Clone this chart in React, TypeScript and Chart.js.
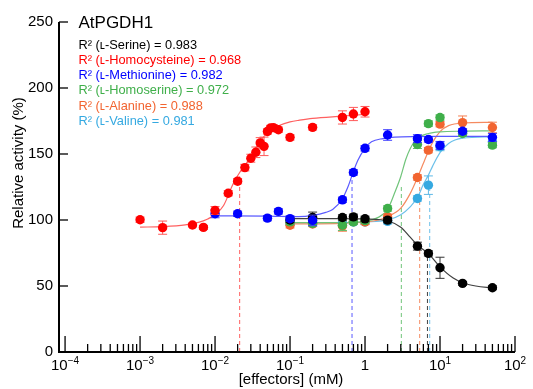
import React, { useEffect, useRef } from 'react';
import { Chart, registerables } from 'chart.js';

Chart.register(...registerables);

const FONT = '"Liberation Sans", Arial, Helvetica, sans-serif';

// ---------- axes ----------
const X_MIN = 8.3e-5;
const X_MAX = 100;
const Y_MIN = 0;
const Y_MAX = 250;
const Y_STEP = 50;
const X_DECADES = [1e-4, 1e-3, 1e-2, 1e-1, 1, 10, 100];
const X_LABEL_BASE = ['10', '10', '10', '10', '1', '10', '10'];
const X_LABEL_EXP = ['\u22124', '\u22123', '\u22122', '\u22121', '', '1', '2'];
const X_MINOR_MULTS = [2, 3, 4, 5, 6, 7, 8, 9];

const TITLE = 'AtPGDH1';
const X_TITLE = '[effectors] (mM)';
const Y_TITLE = 'Relative activity (%)';

// ---------- series names / legend ----------
const SERIES_NAMES = ['L-Serine', 'L-Homocysteine', 'L-Methionine', 'L-Homoserine', 'L-Alanine', 'L-Valine'];
const LEGEND_LABELS = [
  'R\u00B2 (\u029F-Serine) = 0.983',
  'R\u00B2 (\u029F-Homocysteine) = 0.968',
  'R\u00B2 (\u029F-Methionine) = 0.982',
  'R\u00B2 (\u029F-Homoserine) = 0.972',
  'R\u00B2 (\u029F-Alanine) = 0.988',
  'R\u00B2 (\u029F-Valine) = 0.981',
];
const COLORS = ['#000000', '#FF0000', '#0000FF', '#3FAF4A', '#F26430', '#35A9E1'];
const CURVE_COLORS = ['#404040', '#FF6060', '#5A5AFF', '#70C47A', '#F58A60', '#6CC0EA'];
const ERR_COLORS = ['#333333', '#FF5A5A', '#3A3AFF', '#5CBC66', '#F47E50', '#5CB8E6'];

// ---------- measured points ----------
const serineX = [0.1, 0.2, 0.5, 0.7, 1, 2, 5, 7, 10, 20, 50];
const serineY = [100, 102, 101.9, 102.4, 100.9, 99.9, 80.2, 74.7, 63.8, 52, 48.7];
const serineErr = [2, 4, 2, 2, 2, 2, 3, 2, 8, 1.5, 1.5];

const hcyX = [0.001, 0.002, 0.005, 0.007, 0.01, 0.015, 0.02, 0.025, 0.03, 0.035, 0.04, 0.045, 0.05, 0.055, 0.06, 0.07, 0.1, 0.2, 0.5, 0.7, 1];
const hcyY = [100.2, 94.2, 96.2, 94.4, 107.2, 120.3, 129.4, 139.7, 146.8, 151.3, 158.4, 155.8, 167.1, 169.7, 170, 168.4, 162.6, 170.2, 177.7, 180.3, 182];
const hcyErr = [2, 5, 1.5, 1.5, 3, 2, 2, 2.5, 3, 4, 4, 7, 2, 2, 2, 2, 2, 2, 5, 5, 4];

const metX = [0.01, 0.02, 0.05, 0.07, 0.1, 0.2, 0.5, 0.7, 1, 2, 5, 7, 10, 20, 50];
const metY = [104.7, 104.7, 101.4, 106.5, 101, 99.7, 115.3, 136, 154.3, 164.4, 161.6, 161, 156.5, 167.2, 162.6];
const metErr = [3, 2, 2, 2, 2, 4, 2, 2, 2, 4, 3, 2, 3, 2, 3];

const hseX = [0.1, 0.2, 0.5, 0.7, 1, 2, 5, 7, 10, 20, 50];
const hseY = [98.6, 97.4, 96.1, 98.6, 99.5, 108.7, 157.2, 173, 177.6, 165.5, 156.7];
const hseErr = [2, 2, 4, 2, 2, 2, 3, 2, 2, 2, 2];

const alaX = [0.1, 0.2, 0.5, 0.7, 1, 2, 5, 7, 10, 20, 50];
const alaY = [96, 97, 95.5, 98.9, 98.6, 102.4, 132.2, 152.9, 172.6, 173.8, 170.1];
const alaErr = [2, 2, 4, 2, 2, 2, 2, 2, 2, 5, 4];

const valX = [0.1, 0.2, 0.5, 0.7, 1, 2, 5, 7, 10, 20, 50];
const valY = [98, 97.5, 98, 98.5, 98.5, 99, 116.3, 126.4, 155.5, 166, 159.2];
const valErr = [2, 2, 2, 2, 2, 2, 2, 7, 3, 2, 4];

// ---------- fitted curves ----------
const serineFitX = [0.1, 0.5, 1, 1.5, 2, 3, 4, 5, 7, 10, 15, 20, 30, 50];
const serineFitY = [101, 101, 100.8, 100.3, 99.4, 94.5, 87, 81, 74.5, 64.5, 56, 52.5, 50, 48.5];

const hcyFitX = [0.001, 0.002, 0.004, 0.006, 0.008, 0.01, 0.013, 0.0175, 0.0213, 0.025, 0.03, 0.04, 0.054, 0.073, 0.1, 0.134, 0.2, 0.5, 1];
const hcyFitY = [94.6, 95, 96.3, 98.2, 100.8, 104, 111, 127.7, 136, 141, 148, 160, 167.5, 171.8, 174.3, 175.6, 177, 178.7, 180];

const metFitX = [0.01, 0.05, 0.13, 0.2, 0.3, 0.37, 0.49, 0.6, 0.69, 0.8, 1.01, 1.22, 1.74, 2.5, 5, 10, 50];
const metFitY = [103.2, 103, 102.6, 103.5, 105.8, 108, 115.3, 126, 135.7, 145, 154.6, 159.2, 161.7, 162.8, 163.2, 163.3, 163.3];

const hseFitX = [0.1, 0.5, 1, 1.5, 2, 2.5, 3, 3.5, 4, 5, 7, 10, 20, 50];
const hseFitY = [98, 98, 99, 102, 108, 121, 133, 146, 154, 162, 165.5, 166.8, 167.3, 167.5];

const alaFitX = [0.1, 0.5, 1, 1.5, 2, 3, 4, 5, 6, 7, 8, 10, 13, 20, 50];
const alaFitY = [97, 97.5, 98.5, 100, 102.5, 109, 120, 132, 143, 152, 159, 167, 171.5, 173.5, 174];

const valFitX = [0.1, 0.5, 1, 2, 3, 4, 5, 6, 7, 8, 10, 13, 20, 50];
const valFitY = [98, 98, 98.5, 100, 104, 110, 117, 127, 134, 141, 151, 158, 162, 163];

// ---------- EC50 / IC50 drop lines ----------
const EC50_X = [6.8, 0.0213, 0.671, 3.05, 5.36, 7.29];
const EC50_TOP = [73, 133, 132.5, 125, 129, 123];

const POINTS_X = [serineX, hcyX, metX, hseX, alaX, valX];
const POINTS_Y = [serineY, hcyY, metY, hseY, alaY, valY];
const POINTS_ERR = [serineErr, hcyErr, metErr, hseErr, alaErr, valErr];
const FITS_X = [serineFitX, hcyFitX, metFitX, hseFitX, alaFitX, valFitX];
const FITS_Y = [serineFitY, hcyFitY, metFitY, hseFitY, alaFitY, valFitY];
// drawing order for points (lower = on top)
const POINT_ORDER = [7, 5, 6, 8, 9, 10];

const zip = (xs: number[], ys: number[]) => xs.map((x, i) => ({ x, y: ys[i] }));

const errorBarPlugin = {
  id: 'errorBars',
  beforeDatasetDraw(chart: any, args: any) {
    const ds = chart.data.datasets[args.index];
    const errs = ds.errors as number[] | undefined;
    if (!errs) return;
    const ys = chart.scales.y;
    const ctx = chart.ctx;
    ctx.save();
    ctx.strokeStyle = ds.errorColor;
    ctx.lineWidth = 1;
    args.meta.data.forEach((el: any, i: number) => {
      const v = ds.data[i].y;
      const e = errs[i];
      if (!e) return;
      const x = el.x;
      const t = ys.getPixelForValue(v + e);
      const b = ys.getPixelForValue(v - e);
      ctx.beginPath();
      ctx.moveTo(x, t); ctx.lineTo(x, b);
      ctx.moveTo(x - 4.5, t); ctx.lineTo(x + 4.5, t);
      ctx.moveTo(x - 4.5, b); ctx.lineTo(x + 4.5, b);
      ctx.stroke();
    });
    ctx.restore();
  },
};

const decoPlugin = {
  id: 'deco',
  afterDatasetsDraw(chart: any) {
    const { ctx, chartArea, scales } = chart;
    const xs = scales.x;
    const ys = scales.y;
    const y0 = chartArea.bottom;
    const line = (a: number, b: number, c: number, d: number) => {
      ctx.beginPath(); ctx.moveTo(a, b); ctx.lineTo(c, d); ctx.stroke();
    };
    ctx.save();
    ctx.strokeStyle = '#000';
    ctx.lineWidth = 1.3;
    X_DECADES.forEach((base, i) => {
      const px = xs.getPixelForValue(base);
      line(px, y0, px, y0 - 16);
      if (i < X_DECADES.length - 1) {
        X_MINOR_MULTS.forEach((m) => {
          const p = xs.getPixelForValue(m * base);
          line(p, y0, p, y0 - 8);
        });
      }
    });
    for (let v = Y_MIN; v <= Y_MAX; v += Y_STEP) {
      const py = ys.getPixelForValue(v);
      line(chartArea.left, py, chartArea.left + 9, py);
    }
    ctx.lineWidth = 2;
    line(chartArea.left, chartArea.top, chartArea.left, y0);
    line(chartArea.left - 1, y0, chartArea.right, y0);

    // x tick labels with superscripts
    ctx.fillStyle = '#000';
    ctx.textBaseline = 'alphabetic';
    ctx.textAlign = 'left';
    X_DECADES.forEach((v, i) => {
      const px = xs.getPixelForValue(v);
      const base = X_LABEL_BASE[i];
      const exp = X_LABEL_EXP[i];
      ctx.font = `15px ${FONT}`;
      const wb = ctx.measureText(base).width;
      ctx.font = `10px ${FONT}`;
      const we = exp ? ctx.measureText(exp).width : 0;
      const start = px - (wb + we) / 2;
      ctx.font = `15px ${FONT}`;
      ctx.fillText(base, start, 370);
      if (exp) {
        ctx.font = `10px ${FONT}`;
        ctx.fillText(exp, start + wb, 363.5);
      }
    });

    // axis titles
    ctx.font = `15px ${FONT}`;
    ctx.textAlign = 'center';
    ctx.textBaseline = 'middle';
    ctx.fillText(X_TITLE, 291, 380);
    ctx.save();
    ctx.translate(18.5, 163);
    ctx.rotate(-Math.PI / 2);
    ctx.fillText(Y_TITLE, 0, 0);
    ctx.restore();

    // chart title and legend
    ctx.textAlign = 'left';
    ctx.textBaseline = 'alphabetic';
    ctx.font = `17px ${FONT}`;
    ctx.fillText(TITLE, 78.5, 27.5);
    ctx.font = `12.8px ${FONT}`;
    LEGEND_LABELS.forEach((t, i) => {
      ctx.fillStyle = COLORS[i];
      ctx.fillText(t, 78.5, 48.5 + i * 15.3);
    });
    ctx.restore();
  },
};

export default function App() {
  const ref = useRef<HTMLCanvasElement | null>(null);

  useEffect(() => {
    if (!ref.current) return;
    const datasets: any[] = [];
    // drop lines
    EC50_X.forEach((x, i) => {
      datasets.push({
        label: SERIES_NAMES[i] + ' EC50',
        data: [{ x, y: 0 }, { x, y: EC50_TOP[i] }],
        borderColor: CURVE_COLORS[i],
        borderWidth: 1,
        borderDash: [4, 3],
        pointRadius: 0,
        showLine: true,
        order: 100 + i,
      });
    });
    // fitted curves
    FITS_X.forEach((fx, i) => {
      datasets.push({
        label: SERIES_NAMES[i] + ' fit',
        data: zip(fx, FITS_Y[i]),
        borderColor: CURVE_COLORS[i],
        borderWidth: 1.2,
        pointRadius: 0,
        showLine: true,
        cubicInterpolationMode: 'monotone',
        order: 50 + i,
      });
    });
    // points
    POINTS_X.forEach((px, i) => {
      datasets.push({
        label: SERIES_NAMES[i],
        data: zip(px, POINTS_Y[i]),
        showLine: false,
        pointRadius: 4.7,
        pointBorderWidth: 0,
        pointBackgroundColor: COLORS[i],
        pointBorderColor: COLORS[i],
        borderColor: COLORS[i],
        errors: POINTS_ERR[i],
        errorColor: ERR_COLORS[i],
        order: POINT_ORDER[i],
      });
    });

    const chart = new Chart(ref.current, {
      type: 'line',
      data: { datasets },
      options: {
        animation: false,
        responsive: true,
        maintainAspectRatio: false,
        layout: { padding: { top: 22, right: 18, left: 0, bottom: 0 } },
        plugins: { legend: { display: false }, tooltip: { enabled: false }, title: { display: false } },
        scales: {
          x: {
            type: 'logarithmic',
            min: X_MIN,
            max: X_MAX,
            grid: { display: false, drawTicks: false },
            border: { display: false },
            ticks: { display: false },
            afterFit: (s: any) => { s.height = 37; },
          },
          y: {
            type: 'linear',
            min: Y_MIN,
            max: Y_MAX,
            grid: { display: false, drawTicks: false },
            border: { display: false },
            ticks: {
              stepSize: Y_STEP,
              padding: 6,
              color: '#000',
              font: { size: 15, family: FONT },
            },
            afterFit: (s: any) => { s.width = 59; },
          },
        },
      } as any,
      plugins: [errorBarPlugin, decoPlugin],
    });
    return () => chart.destroy();
  }, []);

  return (
    <div style={{ position: 'fixed', left: 0, top: 0, width: 533, height: 389, background: '#fff' }}>
      <canvas ref={ref} />
    </div>
  );
}
